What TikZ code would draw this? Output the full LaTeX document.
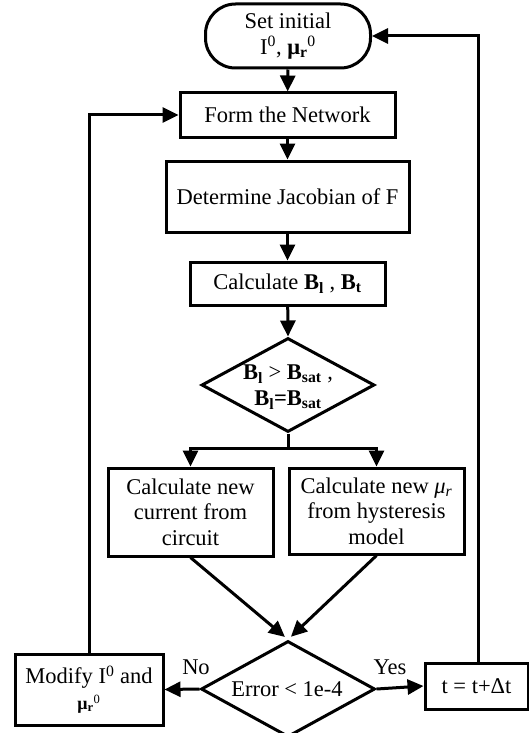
\documentclass[tikz,border=0pt]{standalone}
\usepackage{fontspec}
\setmainfont{Liberation Serif}
\usetikzlibrary{arrows.meta,shapes.geometric,calc}
\begin{document}
\begin{tikzpicture}[x=1pt,y=-1pt,
  every node/.style={font=\fontsize{22.5}{25.5}\selectfont},
  box/.style={draw,line width=3pt,rectangle,inner sep=0pt,align=center},
  dia/.style={draw,line width=3pt,diamond,inner sep=0pt},
  arr/.style={line width=3pt,-{Triangle[length=16pt,width=15pt]}},
  ln/.style={line width=3pt}]
\path[use as bounding box,clip] (0,0) rectangle (529,733);
% nodes
\node[box,rounded corners=30pt,minimum width=165pt,minimum height=64pt] (term) at (288,36)
  {Set initial\\I\textsuperscript{0}, \textbf{μ\textsubscript{r}}\textsuperscript{0}};
\node[box,minimum width=215pt,minimum height=44pt] (form) at (287.5,115) {Form the Network};
\node[box,minimum width=243pt,minimum height=71pt] (jac) at (287.5,196.5) {Determine Jacobian of F};
\node[box,minimum width=195pt,minimum height=43pt] (calcB) at (287.5,283.5)
  {Calculate \textbf{B\textsubscript{l}} , \textbf{B\textsubscript{t}}};
\node[dia,minimum width=173pt,minimum height=94pt] (d1) at (288,385) {};
\node[align=center] (d1t) at (288,387)
  {\textbf{B\textsubscript{l}} > \textbf{B\textsubscript{sat}} ,\\\textbf{B\textsubscript{l}=B\textsubscript{sat}}};
\node[box,minimum width=165pt,minimum height=88pt] (cur) at (190.5,512)
  {Calculate new\\current from\\circuit};
\node[box,minimum width=175pt,minimum height=86pt] (mu) at (376.5,511)
  {Calculate new \textit{μ\textsubscript{r}}\\from hysteresis\\model};
\node[dia,minimum width=174pt,minimum height=96pt] (err) at (288,689) {};
\node (errt) at (287,689) {Error < 1e-4};
\node[box,minimum width=148pt,minimum height=71pt] (mod) at (89,689.5)
  {Modify I\textsuperscript{0} and\\{\fontsize{18}{20}\selectfont\textbf{μ\textsubscript{r}}\textsuperscript{0}}};
\node[box,minimum width=103pt,minimum height=46pt] (tb) at (476.5,686) {t = t+Δt};
\node (no) at (196,667) {No};
\node (yes) at (390,667) {Yes};
% connectors
\draw[arr] (term) -- (form);
\draw[arr] (form) -- (jac);
\draw[arr] (jac) -- (calcB);
\draw[arr] (calcB) -- (d1.north);
\coordinate (split) at (288,448);
\draw[ln] (d1.south) -- (split);
\draw[arr] (split) -| (cur.north);
\draw[arr] (split) -| (mu.north);
\draw[arr,shorten >=4pt] (cur.south) -- (err.north);
\draw[arr,shorten >=4pt] (mu.south) -- (err.north);
\draw[arr] (err.west) -- (mod.east);
\draw[arr] (err.east) -- (tb.west);
\coordinate (rtop) at (478,36);
\draw[arr] (tb.north -| rtop) -- (rtop) -- (term.east);
\coordinate (ltop) at (89,115);
\draw[arr] (mod.north) -- (ltop) -- (form.west);
\end{tikzpicture}
\end{document}
